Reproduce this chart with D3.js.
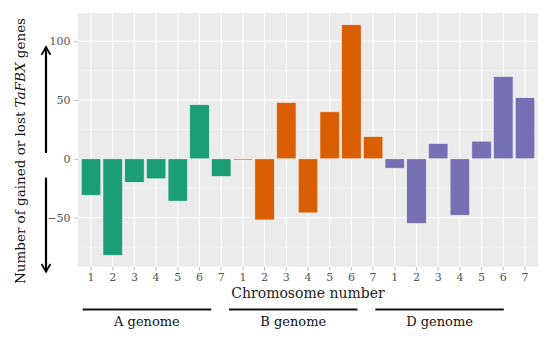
<!DOCTYPE html>
<html>
<head>
<meta charset="utf-8">
<script src="https://cdn.jsdelivr.net/npm/d3@7"></script>
<style>
  body { margin: 0; background: #fff; }
  svg { display: block; font-family: "DejaVu Serif", "Liberation Serif", serif; }
</style>
</head>
<body>
<div id="chart"></div>
<script>
const genomes = ["A", "B", "D"];
const chromosomes = ["1", "2", "3", "4", "5", "6", "7"];
const valuesA = [-31, -82, -20, -17, -36, 46, -15];
const valuesB = [-1, -52, 48, -46, 40, 114, 19];
const valuesD = [-8, -55, 13, -48, 15, 70, 52];
const genomeColors = ["#1b9e77", "#d95f02", "#7570b3"];
const yTicks = [-50, 0, 50, 100];

const width = 550;
const height = 338;
const margin = { top: 13, right: 12, bottom: 71, left: 78 };

const data = [];
[valuesA, valuesB, valuesD].forEach((vals, gi) => {
  vals.forEach((v, ci) => {
    data.push({ key: genomes[gi] + chromosomes[ci], genome: genomes[gi], chr: chromosomes[ci], value: v });
  });
});

const svg = d3.select("#chart")
  .append("svg")
  .attr("width", width)
  .attr("height", height);

const x = d3.scaleBand()
  .domain(data.map(d => d.key))
  .range([margin.left, width - margin.right])
  .paddingInner(0.1)
  .paddingOuter(0.15);

const y = d3.scaleLinear()
  .domain([-92, 124])
  .range([height - margin.bottom, margin.top]);

const color = d3.scaleOrdinal().domain(genomes).range(genomeColors);

// panel
svg.append("rect")
  .attr("x", margin.left)
  .attr("y", margin.top)
  .attr("width", width - margin.right - margin.left)
  .attr("height", height - margin.bottom - margin.top)
  .attr("fill", "#ebebeb");

const grid = svg.append("g");
grid.selectAll(".minor")
  .data([-75, -25, 25, 75])
  .join("line")
  .attr("x1", margin.left).attr("x2", width - margin.right)
  .attr("y1", d => y(d)).attr("y2", d => y(d))
  .attr("stroke", "#fff").attr("stroke-width", 0.5);
grid.selectAll(".major")
  .data(yTicks)
  .join("line")
  .attr("x1", margin.left).attr("x2", width - margin.right)
  .attr("y1", d => y(d)).attr("y2", d => y(d))
  .attr("stroke", "#fff").attr("stroke-width", 1);
grid.selectAll(".vx")
  .data(data)
  .join("line")
  .attr("x1", d => x(d.key) + x.bandwidth() / 2).attr("x2", d => x(d.key) + x.bandwidth() / 2)
  .attr("y1", margin.top).attr("y2", height - margin.bottom)
  .attr("stroke", "#fff").attr("stroke-width", 1);

// bars
svg.append("g")
  .selectAll("rect")
  .data(data)
  .join("rect")
  .attr("x", d => x(d.key))
  .attr("width", x.bandwidth())
  .attr("y", d => y(Math.max(0, d.value)))
  .attr("height", d => Math.abs(y(d.value) - y(0)))
  .attr("fill", d => color(d.genome))
  .attr("stroke", "#f4f4f4")
  .attr("stroke-width", 0.6);

// axes
const xAxis = svg.append("g")
  .attr("transform", `translate(0,${height - margin.bottom})`)
  .call(d3.axisBottom(x).tickSize(3.5).tickPadding(3).tickFormat(k => k.slice(1)));
xAxis.select(".domain").remove();
xAxis.selectAll("line").attr("stroke", "#bbb");
xAxis.selectAll("text").attr("fill", "#555").attr("font-size", 11).attr("font-family", "DejaVu Serif");

const yAxis = svg.append("g")
  .attr("transform", `translate(${margin.left},0)`)
  .call(d3.axisLeft(y).tickValues(yTicks).tickSize(3.5).tickPadding(4));
yAxis.select(".domain").remove();
yAxis.selectAll("line").attr("stroke", "#bbb");
yAxis.selectAll("text").attr("fill", "#555").attr("font-size", 11).attr("font-family", "DejaVu Serif");

// axis titles
svg.append("text")
  .attr("x", (margin.left + width - margin.right) / 2)
  .attr("y", 298)
  .attr("text-anchor", "middle")
  .attr("font-size", 14)
  .attr("fill", "#222")
  .text("Chromosome number");

const yt = svg.append("text")
  .attr("transform", `translate(25,${(margin.top + height - margin.bottom) / 2 + 11}) rotate(-90)`)
  .attr("text-anchor", "middle")
  .attr("font-size", 13.5)
  .attr("fill", "#111");
yt.append("tspan").text("Number of gained or lost ");
yt.append("tspan").attr("font-style", "italic").text("TaFBX");
yt.append("tspan").text(" genes");

// arrows
const defs = svg.append("defs");
defs.append("marker")
  .attr("id", "head")
  .attr("viewBox", "0 0 10 10")
  .attr("refX", 8).attr("refY", 5)
  .attr("markerWidth", 5).attr("markerHeight", 5)
  .attr("orient", "auto")
  .append("path")
  .attr("d", "M1,1 L8,5 L1,9")
  .attr("fill", "none").attr("stroke", "#000").attr("stroke-width", 1.6);

const arrowX = 46;
svg.append("line")
  .attr("x1", arrowX).attr("x2", arrowX)
  .attr("y1", y(5)).attr("y2", y(95))
  .attr("stroke", "#000").attr("stroke-width", 2.2)
  .attr("marker-end", "url(#head)");
svg.append("line")
  .attr("x1", arrowX).attr("x2", arrowX)
  .attr("y1", y(-16)).attr("y2", y(-96))
  .attr("stroke", "#000").attr("stroke-width", 2.2)
  .attr("marker-end", "url(#head)");

// genome brackets (drawn by hand under the axis in the original)
const bracketX = d3.scaleLinear().domain([0, 3]).range([82.7, 521.6]);
const bracketLen = 128.5;
const brackets = svg.append("g");
genomes.forEach((g, i) => {
  const x1 = bracketX(i);
  const x2 = x1 + bracketLen;
  brackets.append("line")
    .attr("x1", x1).attr("x2", x2)
    .attr("y1", 309.5).attr("y2", 309.5)
    .attr("stroke", "#111").attr("stroke-width", 2);
  brackets.append("text")
    .attr("x", (x1 + x2) / 2)
    .attr("y", 326)
    .attr("text-anchor", "middle")
    .attr("font-size", 13)
    .attr("fill", "#111")
    .text(g + " genome");
});
</script>
</body>
</html>
